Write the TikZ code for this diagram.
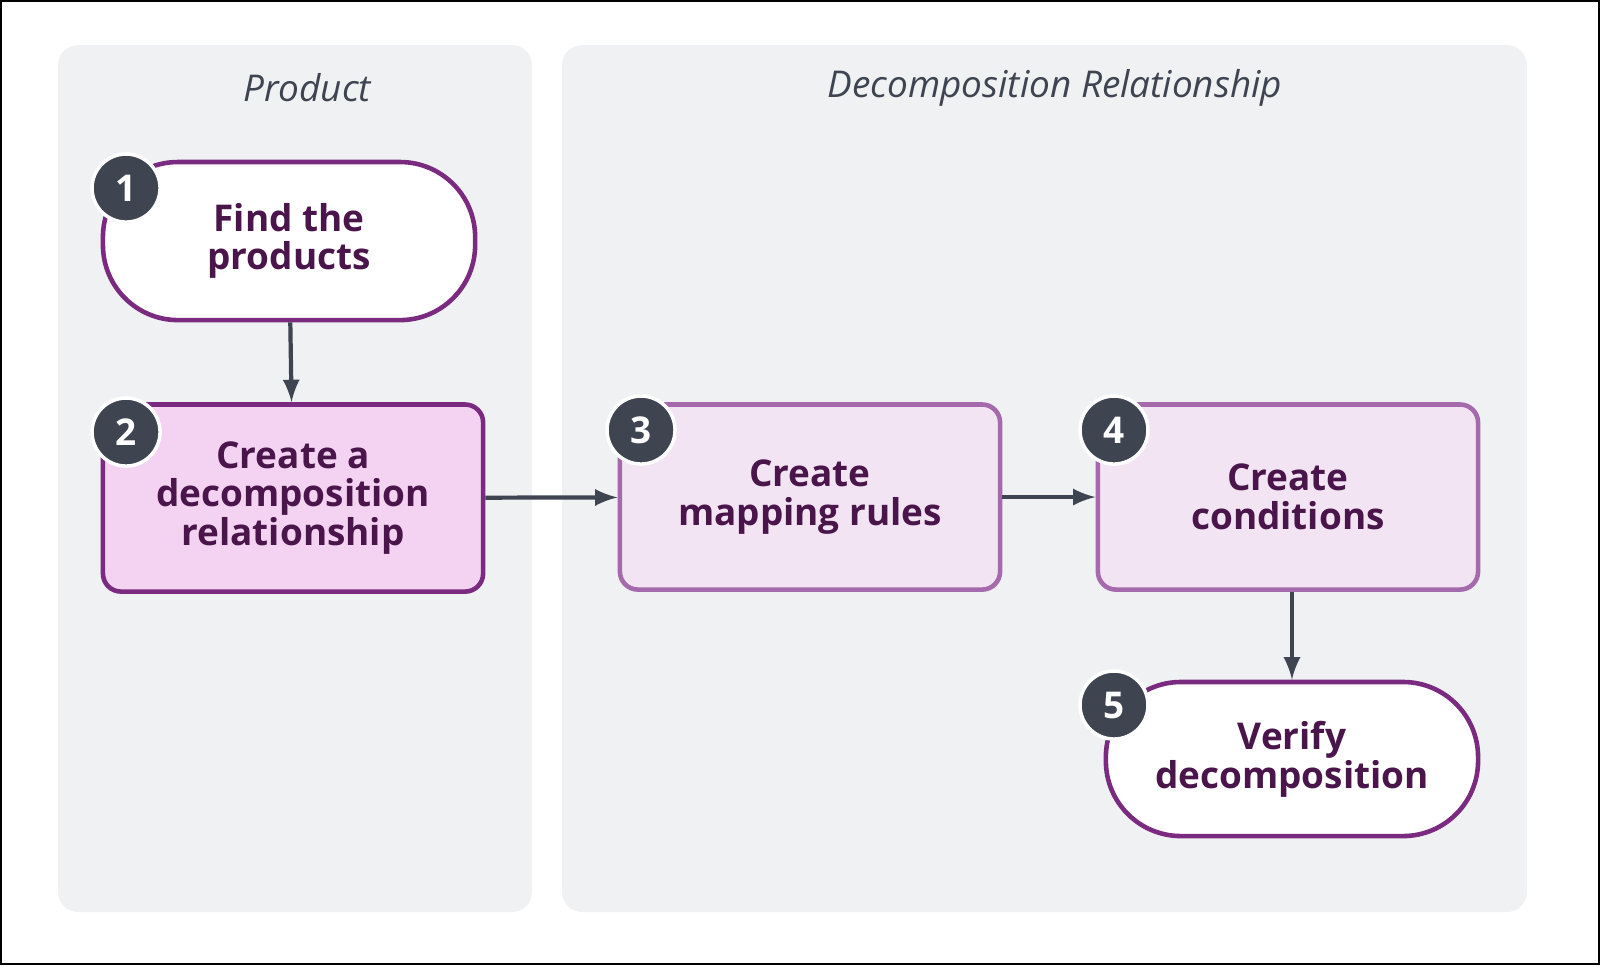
\documentclass[tikz,border=0pt]{standalone}
\usepackage{fontspec}
\setmainfont{Open Sans}
\usetikzlibrary{arrows}
\definecolor{lane}{HTML}{F0F1F3}
\definecolor{plum}{HTML}{7A2B80}
\definecolor{plumlight}{HTML}{A46AAB}
\definecolor{plumtext}{HTML}{4A154B}
\definecolor{darkgray}{HTML}{3E4450}
\definecolor{pinkfill}{HTML}{F3D2F2}
\definecolor{lilacfill}{HTML}{F3E4F3}

\begin{document}
\begin{tikzpicture}[x=0.01cm,y=-0.01cm,->,>=latex,
    stage/.style={draw=plum,line width=1.3pt,align=center,text=plumtext,
      font=\fontsize{10.5}{11}\selectfont\bfseries,inner sep=0pt},
    pill/.style={stage,fill=white,rounded corners=0.75cm},
    box/.style={stage,rounded corners=0.18cm},
    badge/.style={circle,fill=darkgray,draw=white,line width=1pt,text=white,
      minimum size=0.68cm,inner sep=0pt,font=\fontsize{10.5}{11}\selectfont\bfseries},
    lanetitle/.style={font=\fontsize{10.5}{11}\selectfont\itshape,text=darkgray},
    flow/.style={draw=darkgray,line width=1.2pt}]
  \draw[-,black,line width=0.6pt] (1,1) rectangle (1599,964);
  \fill[lane,rounded corners=0.2cm] (58,45) rectangle (532,912);
  \fill[lane,rounded corners=0.2cm] (562,45) rectangle (1527,912);
  \node[lanetitle] (tprod) at (307,88) {Product};
  \node[lanetitle] (tdec) at (1055,88) {Decomposition Relationship};

  \node[pill,minimum width=3.72cm,minimum height=1.58cm] (find) at (289,241) {Find the\\products};
  \node[box,fill=pinkfill,minimum width=3.8cm,minimum height=1.87cm] (rel) at (293,498) {Create a\\decomposition\\relationship};
  \node[box,fill=lilacfill,draw=plumlight,minimum width=3.8cm,minimum height=1.85cm] (rules) at (810,497) {Create\\mapping rules};
  \node[box,fill=lilacfill,draw=plumlight,minimum width=3.8cm,minimum height=1.85cm] (cond) at (1288,497) {Create\\conditions};
  \node[pill,minimum width=3.72cm,minimum height=1.54cm] (verify) at (1292,759) {Verify\\decomposition};

  \node[badge] (b1) at (126,188) {1};
  \node[badge] (b2) at (126,432) {2};
  \node[badge] (b3) at (641,430) {3};
  \node[badge] (b4) at (1114,430) {4};
  \node[badge] (b5) at (1114,705) {5};

  \draw[flow] (find) -- (rel);
  \draw[flow] (rel) -- (rules);
  \draw[flow] (rules) -- (cond);
  \draw[flow] (cond.south -| verify) -- (verify);
\end{tikzpicture}
\end{document}
